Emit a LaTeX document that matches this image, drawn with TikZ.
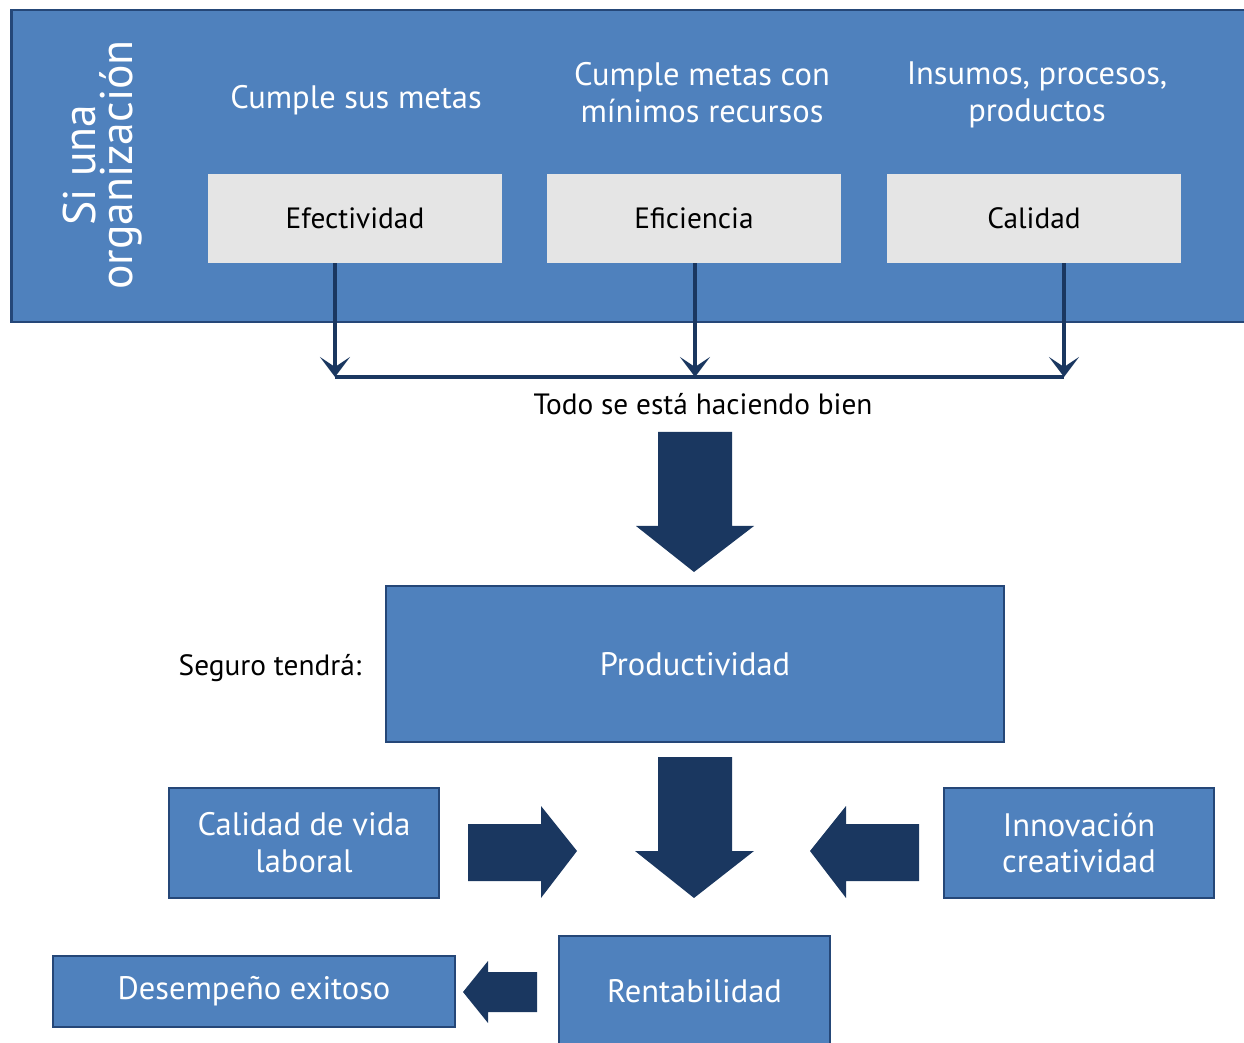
\documentclass[tikz,border=0pt]{standalone}
\usepackage{fontspec}
\setmainfont{PT Sans}
\usetikzlibrary{arrows.meta}

\definecolor{boxblue}{RGB}{79,129,189}
\definecolor{boxline}{RGB}{37,71,120}
\definecolor{navy}{RGB}{26,55,96}
\definecolor{panelgray}{RGB}{229,229,229}

\begin{document}
\begin{tikzpicture}[x=0.02cm, y=-0.02cm,
	bluebox/.style={draw=boxline, line width=1.6pt, fill=boxblue, text=white, align=center, inner sep=0pt, font=\fontsize{18.5}{21}\selectfont},
	graybox/.style={fill=panelgray, minimum width=5.88cm, minimum height=1.78cm, inner sep=0pt, font=\fontsize{16.7}{21}\selectfont},
	toplabel/.style={text=white, align=center, font=\fontsize{18.5}{21}\selectfont},
	plainlabel/.style={font=\fontsize{16.7}{21}\selectfont},
	link/.style={navy, line width=1.9pt}]
	\useasboundingbox (0,0) rectangle (1244,1043);

	% upper panel
	\node[bluebox, minimum width=24.78cm, minimum height=6.24cm] (org) at (630.5,166) {};
	\node[toplabel, rotate=90, font=\fontsize{26}{21}\selectfont] (si) at (103,165) {Si una\\organización};
	\node[toplabel] (lab1) at (356,100) {Cumple sus metas};
	\node[toplabel] (lab2) at (702,93) {Cumple metas con\\mínimos recursos};
	\node[toplabel] (lab3) at (1037,95) {Insumos, procesos,\\productos};
	\node[graybox] (eff) at (355,218.5) {Efectividad};
	\node[graybox] (efi) at (694,218.5) {Eficiencia};
	\node[graybox] (cal) at (1034,218.5) {Calidad};

	\coordinate (j1) at (335,377);
	\coordinate (j2) at (695,377);
	\coordinate (j3) at (1064,377);
	\draw[link, -{Stealth[length=0.4cm, width=0.6cm, inset=0.2cm]}] (j1 |- eff.south) -- (j1);
	\draw[link, -{Stealth[length=0.4cm, width=0.6cm, inset=0.2cm]}] (j2 |- efi.south) -- (j2);
	\draw[link, -{Stealth[length=0.4cm, width=0.6cm, inset=0.2cm]}] (j3 |- cal.south) -- (j3);
	\draw[navy, line width=2.8pt] (j1) -- (j3);
	\node[plainlabel] (todo) at (703,404) {Todo se está haciendo bien};

	\fill[navy] (658,432) -- (732,432) -- (732,526) -- (754,526) -- (694,572) -- (636,526) -- (658,526) -- cycle;

	% lower part
	\node[bluebox, minimum width=12.36cm, minimum height=3.12cm] (prod) at (695,664) {Productividad};
	\node[plainlabel] (seguro) at (270,668) {Seguro tendrá:};
	\node[bluebox, minimum width=5.4cm, minimum height=2.2cm] (vida) at (304,843) {Calidad de vida\\laboral};
	\node[bluebox, minimum width=5.4cm, minimum height=2.2cm] (innov) at (1079,843) {Innovación\\creatividad};
	\node[bluebox, minimum width=5.42cm, minimum height=2.2cm] (rent) at (694.5,991) {Rentabilidad};
	\node[bluebox, minimum width=8.04cm, minimum height=1.42cm] (desemp) at (254,991.5) {Desempeño exitoso};

	\fill[navy] (658,757) -- (732,757) -- (732,851) -- (754,851) -- (694,898) -- (635,851) -- (658,851) -- cycle;
	\fill[navy] (468,824) -- (541,824) -- (541,806) -- (577,851) -- (541,898) -- (541,881) -- (468,881) -- cycle;
	\fill[navy] (919,824) -- (846,824) -- (846,806) -- (810,851) -- (846,898) -- (846,881) -- (919,881) -- cycle;
	\fill[navy] (537,972) -- (488,972) -- (488,961) -- (463,992) -- (488,1023) -- (488,1012) -- (537,1012) -- cycle;
\end{tikzpicture}
\end{document}
